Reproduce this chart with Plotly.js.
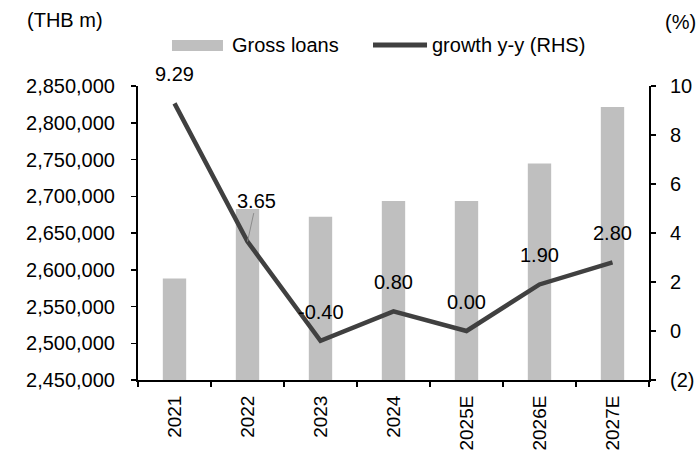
<!DOCTYPE html>
<html>
<head>
<meta charset="utf-8">
<script src="https://cdn.plot.ly/plotly-3.0.1.min.js"></script>
<style>html,body{margin:0;padding:0;background:#fff;}#chart{width:697px;height:457px;}</style>
</head>
<body>
<div id="chart"></div>
<script>
const years = ["2021", "2022", "2023", "2024", "2025E", "2026E", "2027E"];
const grossLoans = [2588200, 2682700, 2672000, 2693400, 2693400, 2744600, 2821400];
const growthYY = [9.29, 3.65, -0.40, 0.80, 0.00, 1.90, 2.80];
const rightTickVals = [-2, 0, 2, 4, 6, 8, 10];
const rightTickText = ["(2)", "0", "2", "4", "6", "8", "10"];

const FONT = "Liberation Sans, Arial, sans-serif";
const FS = 20;
const BAR_COLOR = "#BFBFBF";
const LINE_COLOR = "#404040";

const xPos = years.map((_, i) => i);

const traces = [
  {
    type: "bar",
    x: xPos,
    y: grossLoans,
    name: "Gross loans",
    marker: {color: BAR_COLOR},
    width: 0.32,
    yaxis: "y",
    showlegend: false
  },
  {
    type: "scatter",
    mode: "lines",
    x: xPos,
    y: growthYY,
    name: "growth y-y (RHS)",
    line: {color: LINE_COLOR, width: 4.5},
    yaxis: "y2",
    showlegend: false
  }
];

const annotations = growthYY.map((v, i) => {
  const base = {
    x: xPos[i], y: v, xref: "x", yref: "y2",
    text: v.toFixed(2),
    font: {family: FONT, size: FS, color: "#000"}
  };
  if (i === 1) {
    return Object.assign(base, {showarrow: true, arrowhead: 0, arrowwidth: 1, arrowcolor: "#8c8c8c", ax: 9, ay: -41, standoff: 0});
  }
  return Object.assign(base, {showarrow: false, yshift: 29});
});

annotations.push(
  {xref: "paper", yref: "paper", x: -0.2211, y: 1.2245, xanchor: "left", yanchor: "middle", text: "(THB m)", showarrow: false, font: {family: FONT, size: FS, color: "#000"}},
  {xref: "paper", yref: "paper", x: 1.0274, y: 1.2177, xanchor: "left", yanchor: "middle", text: "(%)", showarrow: false, font: {family: FONT, size: FS, color: "#000"}},
  {xref: "paper", yref: "paper", x: 0.180, y: 1.1378, xanchor: "left", yanchor: "middle", text: "Gross loans", showarrow: false, font: {family: FONT, size: FS, color: "#000"}},
  {xref: "paper", yref: "paper", x: 0.5714, y: 1.1378, xanchor: "left", yanchor: "middle", text: "growth y-y (RHS)", showarrow: false, font: {family: FONT, size: FS, color: "#000"}}
);

const shapes = [
  {type: "rect", xref: "paper", yref: "paper", x0: 0.0665, x1: 0.1663, y0: 1.119, y1: 1.1565, fillcolor: BAR_COLOR, line: {width: 0}},
  {type: "line", xref: "paper", yref: "paper", x0: 0.4599, x1: 0.5656, y0: 1.1395, y1: 1.1395, line: {color: LINE_COLOR, width: 5}}
];

const layout = {
  width: 697,
  height: 457,
  margin: {l: 138, r: 48, t: 86, b: 77, pad: 0},
  paper_bgcolor: "#fff",
  plot_bgcolor: "#fff",
  font: {family: FONT, size: FS, color: "#000"},
  showlegend: false,
  bargap: 0.68,
  xaxis: {
    range: [-0.5, years.length - 0.5],
    tickmode: "array",
    tickvals: xPos,
    ticktext: years,
    ticks: "",
    minor: {tickmode: "linear", tick0: -0.5, dtick: 1, ticks: "outside", ticklen: 5, tickwidth: 1.5, tickcolor: "#000", showgrid: false},
    showgrid: false,
    showline: true, linecolor: "#000", linewidth: 2,
    tickangle: -90,
    ticklabelstandoff: 6,
    tickfont: {family: FONT, size: 19, color: "#000"},
    zeroline: false
  },
  yaxis: {
    range: [2450000, 2850000],
    dtick: 50000,
    tickformat: ",",
    showgrid: false,
    showline: true, linecolor: "#000", linewidth: 2,
    ticks: "outside", ticklen: 5, tickwidth: 1.5, tickcolor: "#000",
    ticklabelstandoff: 12,
    tickfont: {family: FONT, size: FS, color: "#000"},
    zeroline: false
  },
  yaxis2: {
    overlaying: "y",
    side: "right",
    range: [-2, 10],
    tickmode: "array",
    tickvals: rightTickVals,
    ticktext: rightTickText,
    showgrid: false,
    showline: true, linecolor: "#000", linewidth: 2,
    ticks: "outside", ticklen: 5, tickwidth: 1.5, tickcolor: "#000",
    ticklabelstandoff: 10,
    tickfont: {family: FONT, size: FS, color: "#000"},
    zeroline: false
  },
  annotations: annotations,
  shapes: shapes
};

Plotly.newPlot("chart", traces, layout, {displayModeBar: false, staticPlot: true});
</script>
</body>
</html>
